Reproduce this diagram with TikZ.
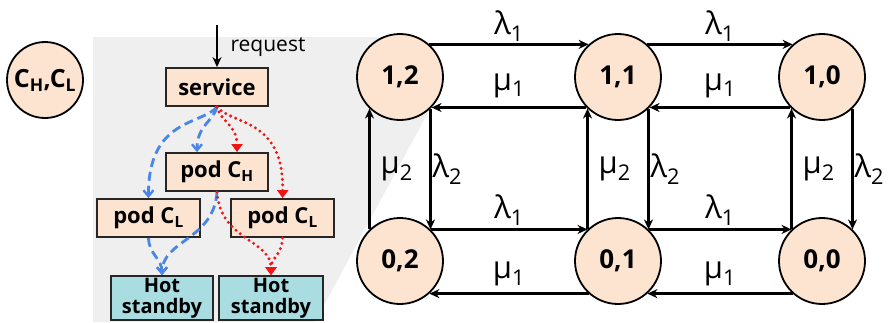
\documentclass[tikz,border=0pt]{standalone}
\usepackage{fontspec}
\setmainfont{Open Sans}
\usetikzlibrary{arrows.meta}
\definecolor{peach}{HTML}{FCE4D0}
\definecolor{hsfill}{HTML}{A9DDE2}
\definecolor{bgray}{HTML}{EFEFEF}
\definecolor{dblue}{HTML}{4A86E8}
\definecolor{dred}{HTML}{F01414}
\begin{document}
\begin{tikzpicture}[x=1pt,y=-1pt,
  state/.style={circle, draw=black, line width=1.8pt, fill=peach, minimum size=86pt, inner sep=0pt, font=\fontsize{26}{28}\selectfont\bfseries},
  box/.style={draw=black!85, line width=1.8pt, fill=peach, minimum width=102pt, minimum height=38pt, inner sep=0pt, font=\fontsize{22}{24}\selectfont\bfseries},
  hsbox/.style={box, fill=hsfill, minimum height=44pt, align=center, font=\fontsize{20}{21}\selectfont\bfseries},
  chain/.style={-{Stealth[length=10pt,width=9pt]}, line width=2.3pt},
  bluearr/.style={dblue, line width=2.8pt, dash pattern=on 9pt off 5pt, -{Straight Barb[length=6pt,width=10pt,line width=2.4pt]}},
  redarr/.style={dred, line width=3.3pt, line cap=round, dash pattern=on 0pt off 5.5pt, -{Triangle[length=8pt,width=11pt]}},
  lab/.style={font=\fontsize{31}{33}\selectfont, inner sep=1pt}]
\useasboundingbox (0,0) rectangle (890,322);
\fill[bgray] (93,37) -- (400,37) -- (432,105) -- (315,322) -- (93,322) -- cycle;

% left legend circle
\node[state, minimum size=76pt, font=\fontsize{25}{26}\selectfont\bfseries] (chl) at (45,80) {C\textsubscript{H},C\textsubscript{L}};

% left panel boxes
\node[box] (service) at (217,87) {service};
\node[box] (podCH) at (217,172) {pod C\textsubscript{H}};
\node[box, minimum width=103pt] (podCLa) at (148.5,218) {pod C\textsubscript{L}};
\node[box, minimum width=103pt] (podCLb) at (282.5,218) {pod C\textsubscript{L}};
\node[hsbox] (hsa) at (162,298) {Hot\\standby};
\node[hsbox, minimum width=104pt] (hsb) at (271,298) {Hot\\standby};

\coordinate (req) at (217,25);
\draw[chain] (req) -- (service.north);
\node[font=\fontsize{21}{23}\selectfont, inner sep=0pt] (reqlab) at (268,47) {request};

% blue dashed paths
\draw[bluearr] (service.south) .. controls (213,122) and (197,125) .. ([xshift=-20pt]podCH.north);
\draw[bluearr] (service.south) .. controls (202,125) and (148,118) .. (podCLa.north);
\draw[bluearr] (podCH.south) .. controls (214,240) and (162,240) .. (hsa.north);
\draw[bluearr] (podCLa.south) .. controls (149,255) and (162,258) .. (hsa.north);
% red dotted paths
\draw[redarr] (service.south) .. controls (221,122) and (237,125) .. ([xshift=20pt]podCH.north);
\draw[redarr] (service.south) .. controls (232,125) and (284,118) .. (podCLb.north);
\draw[redarr] (podCH.south) .. controls (220,240) and (271,240) .. (hsb.north);
\draw[redarr] (podCLb.south) .. controls (282,255) and (271,258) .. (hsb.north);

% Markov chain
\node[state] (s12) at (400,77) {1,2};
\node[state] (s11) at (618,77) {1,1};
\node[state] (s10) at (822,77) {1,0};
\node[state] (s02) at (400,261) {0,2};
\node[state] (s01) at (618,261) {0,1};
\node[state] (s00) at (822,261) {0,0};

\draw[chain] (s12.48) -- node[lab, yshift=18pt]{λ\textsubscript{1}} (s11.132);
\draw[chain] (s11.-136) -- node[lab, yshift=22pt]{μ\textsubscript{1}} (s12.-44);
\draw[chain] (s11.48) -- node[lab, yshift=18pt]{λ\textsubscript{1}} (s10.132);
\draw[chain] (s10.-136) -- node[lab, yshift=22pt]{μ\textsubscript{1}} (s11.-44);

\draw[chain] (s02.46) -- node[lab, yshift=19pt]{λ\textsubscript{1}} (s01.134);
\draw[chain] (s01.-132) -- node[lab, yshift=20pt]{μ\textsubscript{1}} (s02.-48);
\draw[chain] (s01.46) -- node[lab, yshift=19pt]{λ\textsubscript{1}} (s00.134);
\draw[chain] (s00.-132) -- node[lab, yshift=20pt]{μ\textsubscript{1}} (s01.-48);

\draw[chain] (s02.134) -- node[lab, right, xshift=9pt]{μ\textsubscript{2}} (s12.-134);
\draw[chain] (s12.-46) -- node[lab, right]{λ\textsubscript{2}} (s02.46);
\draw[chain] (s01.134) -- node[lab, right, xshift=9pt]{μ\textsubscript{2}} (s11.-134);
\draw[chain] (s11.-46) -- node[lab, right]{λ\textsubscript{2}} (s01.46);
\draw[chain] (s00.134) -- node[lab, right, xshift=9pt]{μ\textsubscript{2}} (s10.-134);
\draw[chain] (s10.-46) -- node[lab, right]{λ\textsubscript{2}} (s00.46);
\end{tikzpicture}
\end{document}
